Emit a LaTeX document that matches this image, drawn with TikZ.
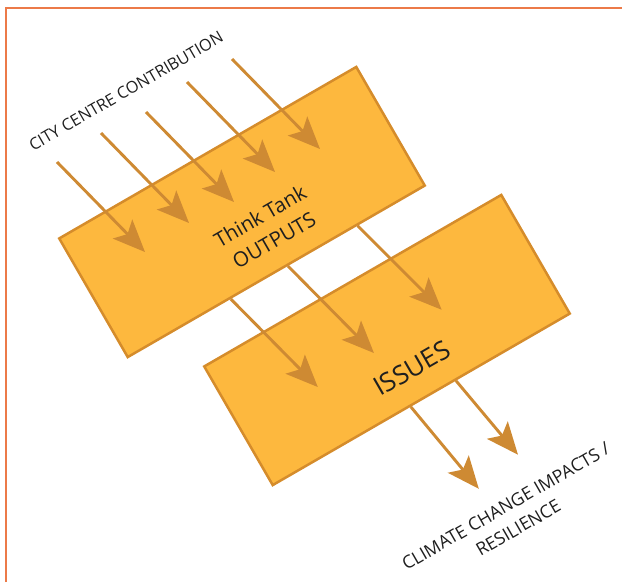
\documentclass[tikz,border=0pt]{standalone}
\usepackage{fontspec}
\setmainfont{Open Sans}
\usetikzlibrary{arrows.meta,calc}

\definecolor{boxfill}{HTML}{FDB83E}
\definecolor{boxline}{HTML}{D58C2B}
\definecolor{flowcol}{HTML}{CE8A33}
\definecolor{framecol}{HTML}{EC7A48}

\begin{document}
\begin{tikzpicture}[x=1pt, y=-1pt,
  panel/.style={draw=boxline, fill=boxfill, line width=2.5pt, rotate=30,
    minimum width=343pt, minimum height=137pt, inner sep=0pt},
  flow/.style={draw=flowcol, line width=2.9pt,
    -{Stealth[length=32pt, width=27pt, inset=7pt]}},
  lbl/.style={rotate=30, align=center, text=black!88, inner sep=0pt}]
  \useasboundingbox (0,0) rectangle (622,582);
  % frame edges
  \draw[framecol, line width=2pt] (6,582) -- (6,8) -- (622,8);
  % panels
  \node[panel] (outputs) at (242,212) {};
  \node[panel] (issuesbox) at (387,340) {};
  % texts
  \node[lbl, font=\fontsize{20.5}{28}\selectfont] (think) at (267,228) {Think Tank\\OUTPUTS};
  \node[lbl, font=\fontsize{26}{30}\selectfont] (issues) at (412,368) {ISSUES};
  \node[lbl, font=\fontsize{16.3}{18}\selectfont] (city) at (126,91) {CITY CENTRE CONTRIBUTION};
  \node[lbl, font=\fontsize{17.8}{25}\selectfont] (climate) at (512,517) {CLIMATE CHANGE IMPACTS /\\RESILIENCE};
  % contributions into the think tank
  \foreach \sx/\sy in {57/162, 101/133, 146/112, 187/82, 232/59}
    \draw[flow] (\sx,\sy) -- ++(88,90);
  % outputs feeding the issues
  \foreach \f/\dx/\dy in {0.346/87/88, 0.537/86/87, 0.77/84/84}
    \draw[flow] ($(outputs.south west)!\f!(outputs.south east)$) -- ++(\dx,\dy);
  % issues onto climate change
  \foreach \f/\dx/\dy in {0.463/68/82, 0.614/62/74}
    \draw[flow] ($(issuesbox.south west)!\f!(issuesbox.south east)$) -- ++(\dx,\dy);
\end{tikzpicture}
\end{document}
